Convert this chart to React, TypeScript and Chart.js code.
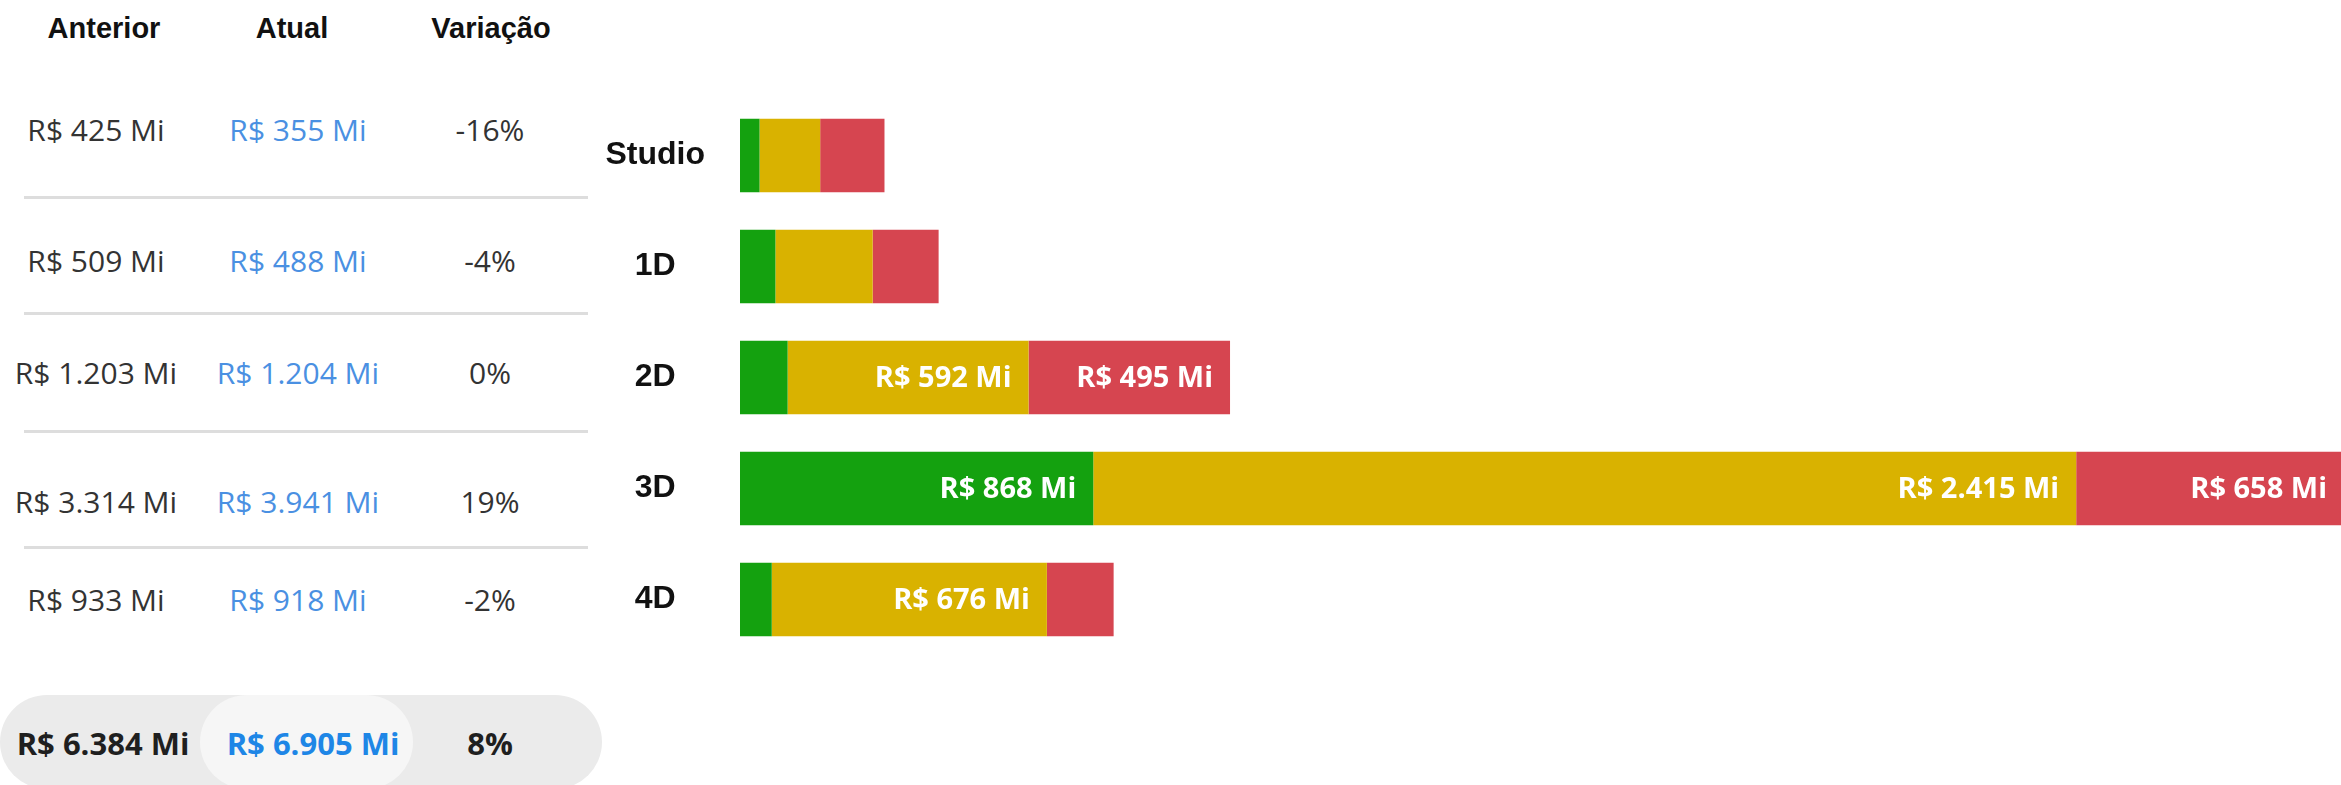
import React, { useEffect, useRef } from "react";
import { Chart, registerables } from "chart.js";

Chart.register(...registerables);

// ---- Data ----
const categories = ["Studio", "1D", "2D", "3D", "4D"];
const seriesGreen = [48, 87, 117, 868, 78];
const seriesYellow = [149, 239, 592, 2415, 676];
const seriesRed = [158, 162, 495, 658, 164];

const headers = ["Anterior", "Atual", "Variação"];
const anterior = ["R$ 425 Mi", "R$ 509 Mi", "R$ 1.203 Mi", "R$ 3.314 Mi", "R$ 933 Mi"];
const atual = ["R$ 355 Mi", "R$ 488 Mi", "R$ 1.204 Mi", "R$ 3.941 Mi", "R$ 918 Mi"];
const variacao = ["-16%", "-4%", "0%", "19%", "-2%"];
const totals = ["R$ 6.384 Mi", "R$ 6.905 Mi", "8%"];

// ---- Styles ----
const COLORS = { green: "#14A10F", yellow: "#D9B200", red: "#D64550" };
const VALUE_FONT = '"Open Sans", "Noto Sans", sans-serif';
const HEAD_FONT = '"Liberation Sans", Arial, sans-serif';

const headerX = [104, 292, 491];
const colX = [96, 298, 490];
const totalX = [103, 313, 490];
const rowY = [130, 261, 373, 502, 600];
const sepY = [197, 313, 431, 547];

function fmtMi(v: number): string {
  const s = String(Math.round(v)).replace(/\B(?=(\d{3})+(?!\d))/g, ".");
  return "R$ " + s + " Mi";
}

const segLabelPlugin = {
  id: "segLabels",
  afterDatasetsDraw(chart: any) {
    const ctx = chart.ctx;
    const pad = 17;
    ctx.save();
    ctx.font = 'bold 29px "Open Sans", "Noto Sans", sans-serif';
    ctx.fillStyle = "#ffffff";
    ctx.textAlign = "right";
    ctx.textBaseline = "middle";
    chart.data.datasets.forEach((ds: any, di: number) => {
      const meta = chart.getDatasetMeta(di);
      meta.data.forEach((el: any, i: number) => {
        const v = ds.data[i];
        const text = fmtMi(v);
        const p = el.getProps(["x", "base", "y"], true);
        const w = Math.abs(p.x - p.base);
        const tw = ctx.measureText(text).width;
        if (tw + 2 * pad <= w) {
          ctx.fillText(text, p.x - pad, p.y + 1);
        }
      });
    });
    ctx.restore();
  },
};

function BarChart() {
  const ref = useRef<HTMLCanvasElement | null>(null);
  useEffect(() => {
    if (!ref.current) return;
    const maxTotal = Math.max(
      ...categories.map((_, i) => seriesGreen[i] + seriesYellow[i] + seriesRed[i])
    );
    const chart = new Chart(ref.current, {
      type: "bar",
      data: {
        labels: categories,
        datasets: [
          { label: "Verde", data: seriesGreen, backgroundColor: COLORS.green },
          { label: "Amarelo", data: seriesYellow, backgroundColor: COLORS.yellow },
          { label: "Vermelho", data: seriesRed, backgroundColor: COLORS.red },
        ],
      },
      options: {
        indexAxis: "y",
        responsive: false,
        animation: false,
        layout: { padding: { top: 100, bottom: 130, left: 0, right: 0 } },
        datasets: {
          bar: { categoryPercentage: 0.66, barPercentage: 1, borderWidth: 0 },
        },
        plugins: {
          legend: { display: false },
          tooltip: { enabled: false },
        },
        scales: {
          x: { stacked: true, display: false, min: 0, max: maxTotal },
          y: {
            stacked: true,
            grid: { display: false, drawTicks: false },
            border: { display: false },
            ticks: {
              crossAlign: "center",
              padding: 35,
              color: "#111111",
              font: { family: HEAD_FONT, size: 32, weight: "bold" },
            },
            afterFit(scale: any) {
              scale.width = 180;
            },
          },
        },
      },
      plugins: [segLabelPlugin],
    } as any);
    return () => chart.destroy();
  }, []);
  return (
    <canvas
      ref={ref}
      width={1784}
      height={785}
      style={{ position: "absolute", left: 560, top: 0, width: 1784, height: 785 }}
    />
  );
}

function Cell(props: { x: number; y: number; text: string; style: React.CSSProperties }) {
  return (
    <div
      style={{
        position: "absolute",
        left: props.x,
        top: props.y,
        transform: "translate(-50%, -50%)",
        whiteSpace: "nowrap",
        lineHeight: 1,
        ...props.style,
      }}
    >
      {props.text}
    </div>
  );
}

export default function App() {
  const valStyle: React.CSSProperties = { fontFamily: VALUE_FONT, fontSize: 30, color: "#333333" };
  const blueStyle: React.CSSProperties = { ...valStyle, color: "#4A90E2" };
  const headStyle: React.CSSProperties = {
    fontFamily: HEAD_FONT,
    fontSize: 29,
    fontWeight: 700,
    color: "#111111",
  };
  const totStyle: React.CSSProperties = {
    fontFamily: VALUE_FONT,
    fontSize: 31,
    fontWeight: 700,
    color: "#1f1f1f",
  };
  return (
    <div
      style={{
        position: "fixed",
        left: 0,
        top: 0,
        width: 2341,
        height: 785,
        overflow: "hidden",
        background: "#ffffff",
      }}
    >
      {headers.map((h, i) => (
        <Cell key={"h" + i} x={headerX[i]} y={28} text={h} style={headStyle} />
      ))}
      {sepY.map((y, i) => (
        <div
          key={"s" + i}
          style={{
            position: "absolute",
            left: 24,
            top: y - 1,
            width: 564,
            height: 3,
            background: "#dddddd",
          }}
        />
      ))}
      {categories.map((_, i) => (
        <React.Fragment key={"r" + i}>
          <Cell x={colX[0]} y={rowY[i]} text={anterior[i]} style={valStyle} />
          <Cell x={colX[1]} y={rowY[i]} text={atual[i]} style={blueStyle} />
          <Cell x={colX[2]} y={rowY[i]} text={variacao[i]} style={valStyle} />
        </React.Fragment>
      ))}
      <div
        style={{
          position: "absolute",
          left: 0,
          top: 695,
          width: 602,
          height: 94,
          borderRadius: 47,
          background: "#ebebeb",
        }}
      />
      <div
        style={{
          position: "absolute",
          left: 200,
          top: 695,
          width: 213,
          height: 94,
          borderRadius: 47,
          background: "#f6f6f6",
        }}
      />
      <Cell x={totalX[0]} y={743} text={totals[0]} style={totStyle} />
      <Cell x={totalX[1]} y={743} text={totals[1]} style={{ ...totStyle, color: "#1E86E6" }} />
      <Cell x={totalX[2]} y={743} text={totals[2]} style={totStyle} />
      <BarChart />
    </div>
  );
}
